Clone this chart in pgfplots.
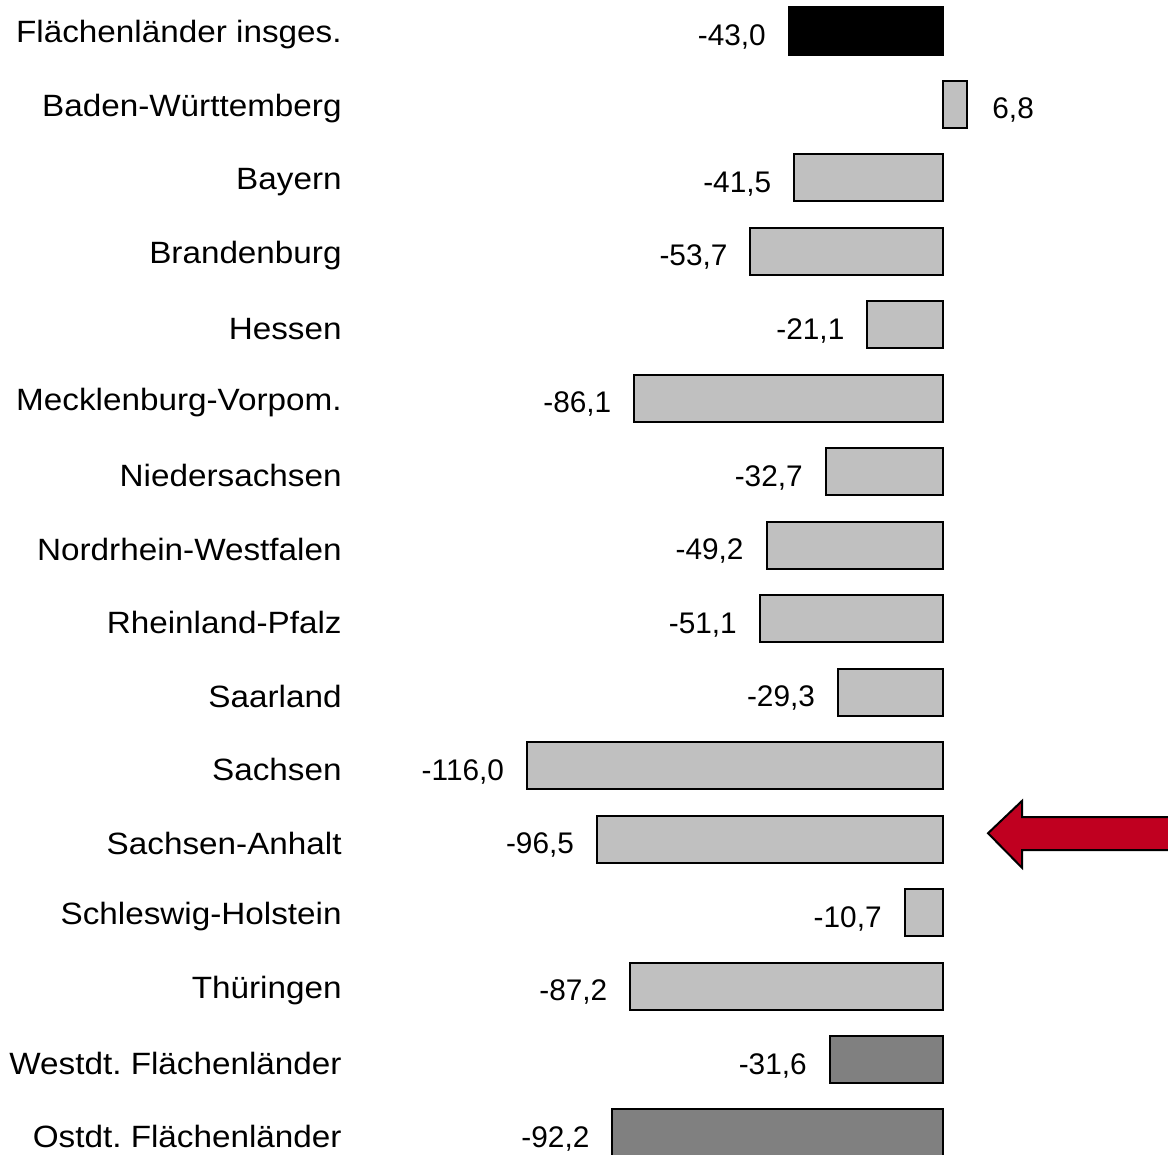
\documentclass[border=0pt]{standalone}
\usepackage{fontspec}
\setmainfont{Liberation Sans}
\newfontfamily\labfont[FakeStretch=1.08]{Liberation Sans}
\usepackage{pgfplots}
\pgfplotsset{compat=1.18}

\definecolor{barlight}{RGB}{192,192,192}
\definecolor{bardark}{RGB}{128,128,128}
\definecolor{arrowred}{RGB}{192,0,32}

\frenchspacing
\begin{document}
\begin{tikzpicture}
\begin{axis}[
    scale only axis,
    width=408pt, height=577.5pt,
    xbar, bar width=0.64, bar shift=0pt,
    xmin=-164.81, xmax=62.74,
    ymin=-0.422, ymax=15.30, y dir=reverse,
    axis line style={draw=none},
    xtick=\empty,
    ytick={0,...,15},
    yticklabels={Flächenländer insges., Baden-Württemberg, Bayern, Brandenburg,
        Hessen, Mecklenburg-Vorpom., Niedersachsen, Nordrhein-Westfalen,
        Rheinland-Pfalz, Saarland, Sachsen, Sachsen-Anhalt, Schleswig-Holstein,
        Thüringen, Westdt. Flächenländer, Ostdt. Flächenländer},
    major tick length=0pt,
    y tick label style={font=\labfont\fontsize{15.4}{18}\selectfont,
        anchor=east, inner sep=0pt, xshift=-5pt, yshift=-2pt},
    nodes near coords,
    every node near coord/.append style={font=\fontsize{14.9}{17}\selectfont,
        inner sep=0pt, yshift=-3pt},
    /pgf/number format/fixed,
    /pgf/number format/fixed zerofill,
    /pgf/number format/precision=1,
    /pgf/number format/use comma,
    /pgf/number format/assume math mode=true,
]
% Flaechenlaender insgesamt
\addplot[fill=black, draw=black, line width=1pt,
    nodes near coords style={anchor=east, xshift=-11pt}]
    coordinates {(-43.0,0)};
% positive value
\addplot[fill=barlight, draw=black, line width=1pt,
    nodes near coords style={anchor=west, xshift=12pt}]
    coordinates {(6.8,1)};
% single Laender
\addplot[fill=barlight, draw=black, line width=1pt,
    nodes near coords style={anchor=east, xshift=-11pt}]
    coordinates {
    (-41.5,2) (-53.7,3) (-21.1,4) (-86.1,5) (-32.7,6) (-49.2,7)
    (-51.1,8) (-29.3,9) (-116.0,10) (-96.5,11) (-10.7,12) (-87.2,13)};
% West / Ost
\addplot[fill=bardark, draw=black, line width=1pt,
    nodes near coords style={anchor=east, xshift=-11pt}]
    coordinates {(-31.6,14) (-92.2,15)};

% arrow pointing at Sachsen-Anhalt
\draw[fill=arrowred, draw=black, line width=1pt]
    (axis cs:12.55,10.92) -- (axis cs:22.03,10.48) -- (axis cs:22.03,10.70)
    -- (axis cs:66,10.70) -- (axis cs:66,11.15) -- (axis cs:22.03,11.15)
    -- (axis cs:22.03,11.39) -- cycle;
\end{axis}
\pgfresetboundingbox
\path (-176pt,0pt) rectangle (408pt,577.5pt);
\end{tikzpicture}
\end{document}
